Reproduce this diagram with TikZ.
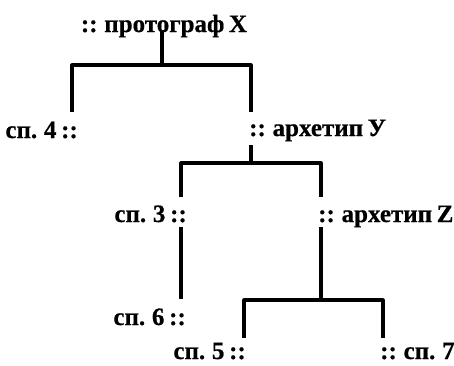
\documentclass[tikz,border=0pt]{standalone}
\usepackage{fontspec}
\setmainfont{Liberation Serif}[BoldFont={Liberation Serif Bold},BoldFeatures={FakeBold=0.6},WordSpace=0.75]
\begin{document}
\begin{tikzpicture}[x=1pt,y=-1pt,
  lbl/.style={inner sep=0pt,font=\fontsize{25}{29}\selectfont\bfseries},
  link/.style={line width=3.2pt,line join=round}]
\useasboundingbox (0,0) rectangle (454,365);
% nodes
\node[lbl,anchor=base] (px) at (164,32) {:: протограф X};
\node[lbl,anchor=base east] (s4) at (78,138) {сп. 4 ::};
\node[lbl,anchor=base west] (ay) at (249,136) {:: архетип У};
\node[lbl,anchor=base east] (s3) at (187,222) {сп. 3 ::};
\node[lbl,anchor=base west] (az) at (318,222) {:: архетип Z};
\node[lbl,anchor=base east] (s6) at (186,325) {сп. 6 ::};
\node[lbl,anchor=base east] (s5) at (246,359) {сп. 5 ::};
\node[lbl,anchor=base west] (s7) at (380,359) {:: сп. 7};
% connector points
\coordinate (pxb) at (162,30);
\coordinate (j1) at (162,65);
\coordinate (s4t) at (72,112);
\coordinate (ayt) at (251,112);
\coordinate (ayb) at (251,145);
\coordinate (j2) at (251,163);
\coordinate (s3t) at (181,197);
\coordinate (azt) at (321,197);
\coordinate (s3b) at (181,227);
\coordinate (s6t) at (181,299);
\coordinate (azb) at (321,227);
\coordinate (j3) at (321,300);
\coordinate (s5t) at (244,338);
\coordinate (s7t) at (383,338);
% connectors
\draw[link] (pxb) -- (j1);
\draw[link] (s4t) |- (j1) -| (ayt);
\draw[link] (ayb) -- (j2);
\draw[link] (s3t) |- (j2) -| (azt);
\draw[link] (s3b) -- (s6t);
\draw[link] (azb) -- (j3);
\draw[link] (s5t) |- (j3) -| (s7t);
\end{tikzpicture}
\end{document}
